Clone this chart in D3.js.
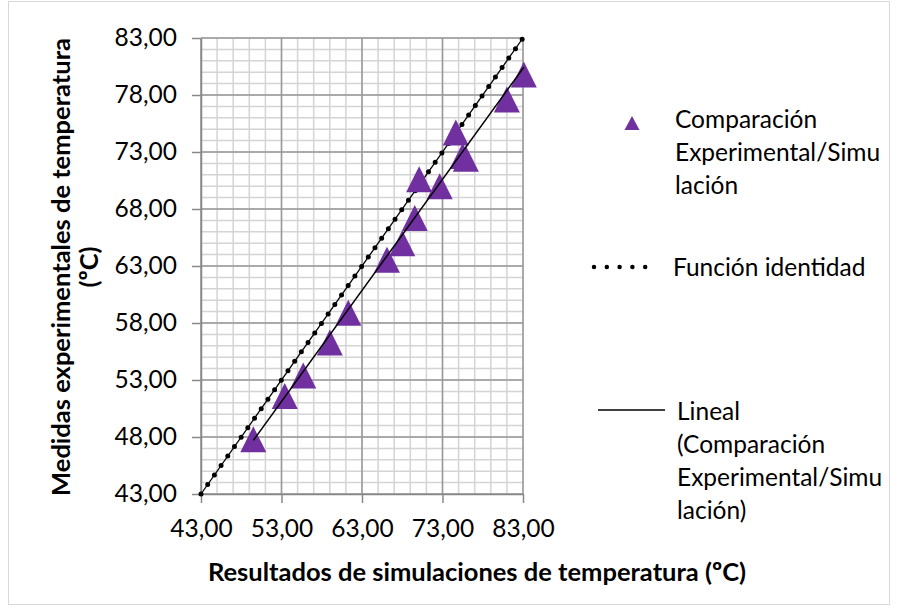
<!DOCTYPE html>
<html>
<head>
<meta charset="utf-8">
<script src="https://cdn.jsdelivr.net/npm/d3@7"></script>
<style>
  html, body { margin: 0; padding: 0; background: #fff; }
  svg { display: block; }
  text { font-family: Lato, "Liberation Sans", sans-serif; fill: #000; }
</style>
</head>
<body>
<svg id="chart" width="898" height="613"></svg>
<script>
// ---- data ----
const simulated = [49.5, 53.4, 55.7, 59.0, 61.3, 66.1, 68.0, 69.55, 70.1, 72.65, 74.65, 75.5, 75.9, 81.0, 83.1];
const measured  = [47.8, 51.6, 53.4, 56.3, 58.9, 63.55, 65.0, 67.2, 70.6, 70.0, 74.7, 72.65, 72.4, 77.6, 79.8];
const identityX = [43, 83];
const identityY = [43, 83];
const xTicks = [43, 53, 63, 73, 83];
const yTicks = [43, 48, 53, 58, 63, 68, 73, 78, 83];
const xMinor = d3.range(43, 83.5, 2);
const yMinor = d3.range(43, 83.5, 1);
const xTitle = "Resultados de simulaciones de temperatura (ºC)";
const yTitleLines = ["Medidas experimentales de temperatura", "(ºC)"];
const legendSeries = ["Comparación", "Experimental/Simu", "lación"];
const legendIdentity = ["Función identidad"];
const legendTrend = ["Lineal", "(Comparación", "Experimental/Simu", "lación)"];

// ---- layout ----
const svg = d3.select("#chart");
const x = d3.scaleLinear().domain([43, 83]).range([201, 523]);
const y = d3.scaleLinear().domain([43, 83]).range([494, 38]);
const fmt = d => d.toFixed(2).replace(".", ",");
const purple = "#7030a0";
const fs = 24.5, tfs = 25.5;

// outer border
svg.append("rect").attr("x", 8.5).attr("y", 1.5).attr("width", 881).attr("height", 603)
  .attr("fill", "none").attr("stroke", "#d9d9d9").attr("stroke-width", 1);

// grid minor
const grid = svg.append("g");
grid.selectAll(".vmin").data(xMinor).join("line")
  .attr("x1", d => x(d)).attr("x2", d => x(d)).attr("y1", y(43)).attr("y2", y(83))
  .attr("stroke", "#d4d4d4").attr("stroke-width", 1.5);
grid.selectAll(".hmin").data(yMinor).join("line")
  .attr("x1", x(43)).attr("x2", x(83)).attr("y1", d => y(d)).attr("y2", d => y(d))
  .attr("stroke", "#d4d4d4").attr("stroke-width", 1.5);
// grid major
grid.selectAll(".vmaj").data(xTicks).join("line")
  .attr("x1", d => x(d)).attr("x2", d => x(d)).attr("y1", y(43)).attr("y2", y(83))
  .attr("stroke", "#999").attr("stroke-width", 1.5);
grid.selectAll(".hmaj").data(yTicks).join("line")
  .attr("x1", x(43)).attr("x2", x(83)).attr("y1", d => y(d)).attr("y2", d => y(d))
  .attr("stroke", "#999").attr("stroke-width", 1.5);

// axes
const xAxis = svg.append("g").attr("transform", `translate(0,${y(43)})`)
  .call(d3.axisBottom(x).tickValues(xTicks).tickFormat(fmt).tickSize(9).tickSizeOuter(0).tickPadding(17));
const yAxis = svg.append("g").attr("transform", `translate(${x(43)},0)`)
  .call(d3.axisLeft(y).tickValues(yTicks).tickFormat(fmt).tickSize(9).tickSizeOuter(0).tickPadding(15));
[xAxis, yAxis].forEach(a => {
  a.select(".domain").attr("stroke", "#888").attr("stroke-width", 1.5);
  a.selectAll(".tick line").attr("stroke", "#888").attr("stroke-width", 1.5);
  a.selectAll(".tick text").attr("font-family", "Lato, sans-serif").attr("font-size", fs).attr("fill", "#000");
});

// identity line (thin line + round dots)
const idData = identityX.map((d, i) => [d, identityY[i]]);
const line = d3.line().x(d => x(d[0])).y(d => y(d[1]));
svg.append("path").attr("d", line(idData)).attr("fill", "none")
  .attr("stroke", "#000").attr("stroke-width", 1.3);
svg.append("path").attr("d", line(idData)).attr("fill", "none")
  .attr("stroke", "#000").attr("stroke-width", 5).attr("stroke-linecap", "round")
  .attr("stroke-dasharray", "0 11.6");

// triangles
const tri = (w, h) => `M0,${-h/2}L${w/2},${h/2}L${-w/2},${h/2}Z`;
const pts = simulated.map((d, i) => [d, measured[i]]);
svg.append("g").selectAll("path").data(pts).join("path")
  .attr("d", tri(26, 26))
  .attr("transform", d => `translate(${x(d[0])},${y(d[1])})`)
  .attr("fill", purple);

// linear trendline (least squares)
const mx = d3.mean(simulated), my = d3.mean(measured);
const slope = d3.sum(pts, d => (d[0] - mx) * (d[1] - my)) / d3.sum(pts, d => (d[0] - mx) ** 2);
const icpt = my - slope * mx;
const xmin = d3.min(simulated), xmax = d3.max(simulated);
svg.append("path").attr("d", line([[xmin, icpt + slope * xmin], [xmax, icpt + slope * xmax]]))
  .attr("fill", "none").attr("stroke", "#000").attr("stroke-width", 1.5);

// axis titles
svg.append("text").attr("x", 477).attr("y", 581).attr("text-anchor", "middle")
  .attr("font-size", tfs).attr("font-weight", "bold").text(xTitle);
const yt = svg.append("text").attr("transform", "translate(70,267) rotate(-90)")
  .attr("text-anchor", "middle").attr("font-size", tfs).attr("font-weight", "bold");
yTitleLines.forEach((t, i) => yt.append("tspan").attr("x", 0).attr("y", i * 28).text(t));

// legend
const lg = svg.append("g");
const lh = 33;
lg.append("path").attr("d", tri(15, 14)).attr("transform", "translate(632,123)").attr("fill", purple);
legendSeries.forEach((t, i) => lg.append("text").attr("x", 675).attr("y", 128 + i * lh).attr("font-size", fs).text(t));
lg.append("line").attr("x1", 594).attr("x2", 658).attr("y1", 267).attr("y2", 267)
  .attr("stroke", "#000").attr("stroke-width", 4.5).attr("stroke-linecap", "round").attr("stroke-dasharray", "0 12.8");
legendIdentity.forEach((t, i) => lg.append("text").attr("x", 673).attr("y", 276 + i * lh).attr("font-size", fs).text(t));
lg.append("line").attr("x1", 598).attr("x2", 665).attr("y1", 410).attr("y2", 410)
  .attr("stroke", "#000").attr("stroke-width", 1.3);
legendTrend.forEach((t, i) => lg.append("text").attr("x", 677).attr("y", 420 + i * lh).attr("font-size", fs).text(t));
</script>
</body>
</html>
